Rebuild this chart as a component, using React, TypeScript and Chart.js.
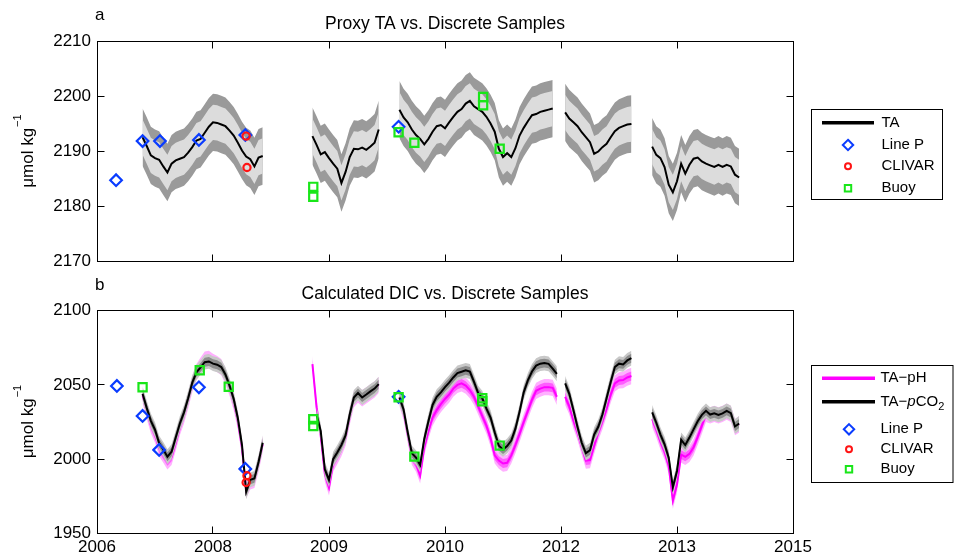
import React, { useEffect, useRef } from 'react';
import { Chart, registerables } from 'chart.js';

Chart.register(...registerables);

const FONT = "'Liberation Sans', Arial, Helvetica, sans-serif";

// ---- time axis (decimal years) ----
const SERIES_START = 2007.25;
const SERIES_STEP = 0.05;
const X_MIN = 2006.7;
const X_MAX = 2015.1;
const X_TICKS = [2006.7, 2008.1, 2009.5, 2010.9, 2012.3, 2013.7, 2015.1];
const X_TICK_LABELS = ['2006', '2008', '2009', '2010', '2012', '2013', '2015'];

// ---- panel a: proxy TA (umol/kg), regular time steps from SERIES_START ----
const TA = [
  2192.6, 2191.0, 2189.3, 2188.8, 2188.5, 2187.3, 2186.2, 2187.8, 2188.4, 2188.7,
  2189.0, 2189.8, 2190.8, 2192.0, 2192.3, 2193.4, 2194.5, 2195.3, 2195.2, 2194.9,
  2194.6, 2193.8, 2192.9, 2191.6, 2190.2, 2189.1, 2188.6, 2187.3, 2188.9, 2189.2,
  null, null, null, null, null, null, null, null, null, null, null,
  2192.8, 2191.2, 2189.5, 2189.9, 2188.8, 2187.8, 2186.9, 2184.3, 2186.3, 2189.0,
  2190.5, 2190.4, 2190.7, 2190.3, 2190.9, 2191.6, 2194.0,
  null, null, null, null,
  2197.6, 2196.2, 2195.3, 2194.0, 2193.0, 2192.3, 2191.3, 2192.3, 2193.6, 2194.6,
  2194.8, 2194.2, 2195.3, 2196.3, 2197.2, 2197.7, 2198.7, 2199.2, 2198.2, 2197.7,
  2197.2, 2196.3, 2195.1, 2193.6, 2190.5, 2189.0, 2189.7, 2189.0, 2190.6, 2192.9,
  2194.3, 2195.5, 2196.6, 2196.8, 2197.2, 2197.4, 2197.6, 2197.8,
  null, null,
  2197.1, 2196.0, 2195.3, 2194.6, 2193.5, 2192.6, 2191.7, 2189.6, 2190.0, 2190.8,
  2191.4, 2192.6, 2193.7, 2194.3, 2194.6, 2194.9, 2195.0,
  null, null, null, null,
  2190.9, 2189.4, 2188.8, 2187.2, 2184.0, 2182.6, 2184.6, 2187.8, 2186.0, 2187.6,
  2188.7, 2188.9, 2188.2, 2187.8, 2187.5, 2187.2, 2187.6, 2187.2, 2187.6, 2187.3,
  2185.8, 2185.3,
];
const TA_UNC_INNER = 3.2;
const TA_UNC_OUTER = 5.2;

const LINEP_A_T = [2006.93, 2007.25, 2007.46, 2007.93, 2008.49, 2010.34];
const LINEP_A_V = [2184.8, 2191.9, 2191.9, 2192.1, 2193.0, 2194.5];
const CLIVAR_A_T = [2008.50, 2008.51];
const CLIVAR_A_V = [2192.8, 2187.1];
const BUOY_A_T = [2009.31, 2009.31, 2010.34, 2010.53, 2011.36, 2011.36, 2011.56];
const BUOY_A_V = [2183.6, 2181.8, 2193.5, 2191.6, 2199.9, 2198.4, 2190.5];

// ---- panel b: calculated DIC (umol/kg) ----
const DIC_TA_PH = [
  2043.0, 2032.5, 2023.0, 2016.5, 2007.5, 2003.0, 1998.5, 2001.5, 2011.0, 2021.5,
  2029.5, 2039.5, 2050.5, 2058.5, 2063.0, 2067.0, 2067.5, 2065.5, 2064.0, 2062.0,
  2056.0, 2048.0, 2038.5, 2025.5, 2007.5, 1979.0, 1985.0, 1986.0, 1997.0, 2010.0,
  null, null, null, null, null, null, null, null, null, null, null,
  2064.0, 2035.0, 2016.0, 1990.0, 1981.0, 1997.0, 2002.0, 2007.5, 2014.5, 2028.5,
  2040.5, 2043.5, 2041.0, 2043.0, 2045.0, 2047.0, 2050.0,
  null, null, null, null,
  2041.0, 2032.0, 2016.5, 2001.5, 1997.0, 1989.0, 2008.0, 2019.0, 2028.0, 2033.0,
  2037.0, 2040.5, 2043.5, 2047.5, 2050.0, 2051.0, 2049.5, 2046.5, 2042.0, 2035.5,
  2029.0, 2022.5, 2014.0, 2002.5, 1999.0, 1997.0, 1997.5, 2002.5, 2009.5, 2017.0,
  2025.0, 2032.5, 2040.0, 2046.0, 2047.5, 2048.5, 2048.5, 2048.0, 2042.0,
  null,
  2042.0, 2035.5, 2026.0, 2018.0, 2008.4, 1999.0, 1999.4, 2009.0, 2018.0, 2025.5,
  2034.0, 2043.5, 2051.0, 2053.0, 2053.3, 2055.0, 2056.0,
  null, null, null, null,
  2027.0, 2020.0, 2012.0, 2005.0, 1995.5, 1972.0, 1983.0, 2003.0, 2001.5, 2003.5,
  2008.0, 2015.0, 2022.5, 2030.5, 2029.5, 2030.5, 2029.5, 2030.5, 2032.0, 2030.5,
  2021.5, 2023.5,
];
const DIC_TA_PCO2 = [
  2044.0, 2034.5, 2025.8, 2019.8, 2010.8, 2006.5, 2001.6, 2005.0, 2014.5, 2024.0,
  2031.5, 2041.0, 2051.5, 2058.5, 2061.8, 2065.3, 2065.8, 2064.3, 2063.6, 2062.0,
  2057.0, 2049.5, 2040.5, 2027.5, 2009.5, 1978.0, 1986.0, 1987.0, 1998.0, 2011.0,
  null, null, null, null, null, null, null, null, null, null, null,
  null, 2030.0, 2019.0, 1993.0, 1986.0, 2000.0, 2004.5, 2009.5, 2016.0, 2030.0,
  2041.5, 2044.5, 2041.5, 2043.5, 2045.6, 2047.5, 2050.5,
  null, null, null, null,
  2041.5, 2033.5, 2018.0, 2004.0, 2001.0, 1996.0, 2013.5, 2025.5, 2036.5, 2042.0,
  2045.0, 2048.5, 2051.5, 2055.0, 2058.0, 2058.9, 2059.8, 2059.0, 2052.0, 2044.5,
  2041.0, 2034.0, 2028.0, 2018.0, 2009.0, 2006.5, 2008.8, 2012.5, 2020.5, 2032.0,
  2045.0, 2053.0, 2059.0, 2063.0, 2064.3, 2064.7, 2064.2, 2061.0, 2057.5,
  null,
  2051.0, 2044.0, 2033.0, 2021.5, 2011.0, 2004.0, 2006.0, 2016.5, 2021.8, 2030.0,
  2041.0, 2052.0, 2062.0, 2064.3, 2063.8, 2066.5, 2068.0,
  null, null, null, null,
  2031.5, 2024.5, 2016.5, 2010.0, 2001.0, 1981.0, 1992.0, 2013.0, 2009.5, 2014.5,
  2020.0, 2025.5, 2029.8, 2032.5, 2030.0, 2030.8, 2029.8, 2030.8, 2032.5, 2031.0,
  2022.0, 2024.0,
];
const PH_UNC_INNER = 3.0;
const PH_UNC_OUTER = 5.5;
const PCO2_UNC_INNER = 3.0;
const PCO2_UNC_OUTER = 5.0;

const LINEP_B_T = [2006.94, 2007.25, 2007.45, 2007.93, 2008.49, 2010.34];
const LINEP_B_V = [2049.3, 2029.1, 2006.2, 2048.4, 1993.4, 2042.0];
const CLIVAR_B_T = [2008.51, 2008.50];
const CLIVAR_B_V = [1988.8, 1984.2];
const BUOY_B_T = [2007.25, 2007.94, 2008.29, 2009.31, 2009.31, 2010.34, 2010.53, 2011.35, 2011.35, 2011.56];
const BUOY_B_V = [2048.4, 2059.9, 2048.8, 2026.9, 2022.3, 2041.7, 2001.7, 2041.0, 2039.0, 2009.1];

// ---- colours ----
const BLUE = '#0a3cff';
const RED = '#ff1414';
const GREEN = '#19e619';
const MAGENTA = '#ff00ff';

// ---- helpers ----
const xy = (vals: (number | null)[], d = 0) =>
  vals.map((v, i) => ({ x: SERIES_START + i * SERIES_STEP, y: v == null ? null : v + d }));
const pts = (t: number[], v: number[]) => t.map((x, i) => ({ x, y: v[i] }));

function band(vals: (number | null)[], d: number, color: string, order: number) {
  return [
    { data: xy(vals, d), showLine: true, fill: '+1', backgroundColor: color, borderColor: 'rgba(0,0,0,0)', borderWidth: 0, pointRadius: 0, order, spanGaps: false },
    { data: xy(vals, -d), showLine: true, fill: false, backgroundColor: 'rgba(0,0,0,0)', borderColor: 'rgba(0,0,0,0)', borderWidth: 0, pointRadius: 0, order, spanGaps: false },
  ];
}
function line(vals: (number | null)[], color: string, width: number, order: number) {
  return { data: xy(vals), showLine: true, fill: false, borderColor: color, backgroundColor: color, borderWidth: width, pointRadius: 0, order, spanGaps: false };
}
function markers(t: number[], v: number[], style: string, radius: number, color: string, order: number) {
  return {
    data: pts(t, v), showLine: false, pointStyle: style, pointRadius: radius, pointBorderWidth: 2.2,
    pointBorderColor: color, borderColor: color, pointBackgroundColor: 'rgba(0,0,0,0)', backgroundColor: 'rgba(0,0,0,0)', order,
  };
}

type Part = { t: string; italic?: boolean; sub?: boolean };
type Entry = { kind: string; color: string; y: number; parts: Part[] };

function drawMarker(ctx: CanvasRenderingContext2D, kind: string, x: number, y: number, color: string) {
  ctx.save();
  ctx.strokeStyle = color;
  ctx.lineWidth = 2;
  ctx.beginPath();
  if (kind === 'rectRot') {
    const r = 5.2;
    ctx.moveTo(x, y - r); ctx.lineTo(x + r, y); ctx.lineTo(x, y + r); ctx.lineTo(x - r, y); ctx.closePath();
  } else if (kind === 'circle') {
    ctx.arc(x, y, 3, 0, Math.PI * 2);
  } else {
    ctx.rect(x - 3.2, y - 3.2, 6.4, 6.4);
  }
  ctx.stroke();
  ctx.restore();
}

function drawParts(ctx: CanvasRenderingContext2D, parts: Part[], x: number, y: number) {
  let cx = x;
  for (const p of parts) {
    const size = p.sub ? 11 : 15;
    ctx.font = `${p.italic ? 'italic ' : ''}${size}px ${FONT}`;
    ctx.fillText(p.t, cx, y + (p.sub ? 5 : 0));
    cx += ctx.measureText(p.t).width;
  }
}

function decorPlugin(p: any) {
  return {
    id: 'decor',
    afterDraw(chart: any) {
      const ctx: CanvasRenderingContext2D = chart.ctx;
      const { left, right, top, bottom } = chart.chartArea;
      const c = (v: number) => Math.floor(v) + 0.5;
      const L = c(left), R = c(right), T = c(top), B = c(bottom);
      ctx.save();
      ctx.strokeStyle = '#000';
      ctx.lineWidth = 1;
      ctx.strokeRect(L, T, R - L, B - T);
      const TL = 7;
      ctx.beginPath();
      chart.scales.x.ticks.forEach((t: any) => {
        const px = c(chart.scales.x.getPixelForValue(t.value));
        ctx.moveTo(px, B); ctx.lineTo(px, B - TL);
        ctx.moveTo(px, T); ctx.lineTo(px, T + TL);
      });
      chart.scales.y.ticks.forEach((t: any) => {
        const py = c(chart.scales.y.getPixelForValue(t.value));
        ctx.moveTo(L, py); ctx.lineTo(L + TL, py);
        ctx.moveTo(R, py); ctx.lineTo(R - TL, py);
      });
      ctx.stroke();

      ctx.fillStyle = '#000';
      // title
      ctx.font = `17.5px ${FONT}`;
      ctx.textAlign = 'center';
      ctx.textBaseline = 'alphabetic';
      ctx.fillText(p.title, (left + right) / 2, p.titleY);
      // panel letter
      ctx.font = `17px ${FONT}`;
      ctx.textAlign = 'left';
      ctx.fillText(p.letter, 95, p.letterY);

      // y-axis label with superscript
      const cy = (top + bottom) / 2;
      ctx.save();
      ctx.translate(33, cy);
      ctx.rotate(-Math.PI / 2);
      ctx.font = `17px ${FONT}`;
      const main = 'μmol kg';
      const mw = ctx.measureText(main).width;
      ctx.font = `11px ${FONT}`;
      const sup = '−1';
      const sw = ctx.measureText(sup).width;
      const x0 = -(mw + sw) / 2;
      ctx.font = `17px ${FONT}`;
      ctx.fillText(main, x0, 0);
      ctx.font = `11px ${FONT}`;
      ctx.fillText(sup, x0 + mw + 1, -12);
      ctx.restore();

      // legend
      const [bx, by, bw, bh] = p.legendBox;
      ctx.fillStyle = '#fff';
      ctx.fillRect(bx, by, bw, bh);
      ctx.strokeStyle = '#000';
      ctx.lineWidth = 1;
      ctx.strokeRect(bx, by, bw, bh);
      ctx.fillStyle = '#000';
      ctx.textAlign = 'left';
      ctx.textBaseline = 'middle';
      p.entries.forEach((e: Entry) => {
        if (e.kind === 'line') {
          ctx.save();
          ctx.strokeStyle = e.color;
          ctx.lineWidth = 3.5;
          ctx.beginPath();
          ctx.moveTo(p.lineX[0], e.y);
          ctx.lineTo(p.lineX[1], e.y);
          ctx.stroke();
          ctx.restore();
        } else {
          drawMarker(ctx, e.kind, p.markerX, e.y, e.color);
        }
        ctx.fillStyle = '#000';
        drawParts(ctx, e.parts, p.textX, e.y);
      });
      ctx.restore();
    },
  };
}

function makeConfig(opts: any) {
  return {
    type: 'scatter',
    data: { datasets: opts.datasets },
    options: {
      animation: false,
      responsive: false,
      events: [],
      layout: { padding: { top: opts.padTop, bottom: opts.padBottom, left: 0, right: 161 } },
      plugins: { legend: { display: false }, tooltip: { enabled: false }, title: { display: false } },
      scales: {
        x: {
          type: 'linear',
          min: X_MIN,
          max: X_MAX,
          afterBuildTicks: (s: any) => { s.ticks = X_TICKS.map((v) => ({ value: v })); },
          ticks: {
            display: opts.showX,
            padding: 4,
            autoSkip: false,
            maxRotation: 0,
            color: '#000',
            font: { family: FONT, size: 17 },
            callback: (_v: any, i: number) => X_TICK_LABELS[i],
          },
          grid: { display: false, drawTicks: false },
          border: { display: false },
          afterFit: (s: any) => { s.height = opts.xHeight; },
        },
        y: {
          type: 'linear',
          min: opts.yMin,
          max: opts.yMax,
          ticks: {
            stepSize: opts.yStep,
            padding: 6,
            color: '#000',
            font: { family: FONT, size: 17 },
            callback: (v: any) => String(v),
          },
          grid: { display: false, drawTicks: false },
          border: { display: false },
          afterFit: (s: any) => { s.width = 97; },
        },
      },
    },
    plugins: [decorPlugin(opts.decor)],
  };
}

const configA = () => makeConfig({
  padTop: 41.3, padBottom: 13.7, xHeight: 0, showX: false,
  yMin: 2170, yMax: 2210, yStep: 10,
  datasets: [
    markers(LINEP_A_T, LINEP_A_V, 'rectRot', 5.8, BLUE, 2),
    markers(CLIVAR_A_T, CLIVAR_A_V, 'circle', 3.6, RED, 1),
    markers(BUOY_A_T, BUOY_A_V, 'rect', 5.8, GREEN, 0),
    line(TA, '#000', 2, 3),
    ...band(TA, TA_UNC_INNER, '#dcdcdc', 4),
    ...band(TA, TA_UNC_OUTER, '#9a9a9a', 5),
  ],
  decor: {
    title: 'Proxy TA vs. Discrete Samples', titleY: 29.3, letter: 'a', letterY: 20,
    legendBox: [811.5, 109.5, 131, 90], lineX: [822, 874], markerX: 848, textX: 881.5,
    entries: [
      { kind: 'line', color: '#000', y: 122.7, parts: [{ t: 'TA' }] },
      { kind: 'rectRot', color: BLUE, y: 145, parts: [{ t: 'Line P' }] },
      { kind: 'circle', color: RED, y: 166.3, parts: [{ t: 'CLIVAR' }] },
      { kind: 'rect', color: GREEN, y: 188.3, parts: [{ t: 'Buoy' }] },
    ],
  },
});

const configB = () => makeConfig({
  padTop: 32.7, padBottom: 0, xHeight: 22.7, showX: true,
  yMin: 1950, yMax: 2100, yStep: 50,
  datasets: [
    markers(LINEP_B_T, LINEP_B_V, 'rectRot', 5.8, BLUE, 2),
    markers(CLIVAR_B_T, CLIVAR_B_V, 'circle', 3.6, RED, 1),
    markers(BUOY_B_T, BUOY_B_V, 'rect', 5.8, GREEN, 0),
    line(DIC_TA_PCO2, '#000', 2, 3),
    ...band(DIC_TA_PCO2, PCO2_UNC_INNER, '#8c8c8c', 4),
    ...band(DIC_TA_PCO2, PCO2_UNC_OUTER, '#c8c8c8', 5),
    line(DIC_TA_PH, MAGENTA, 2, 6),
    ...band(DIC_TA_PH, PH_UNC_INNER, '#ff5cff', 7),
    ...band(DIC_TA_PH, PH_UNC_OUTER, '#ffb0ff', 8),
  ],
  decor: {
    title: 'Calculated DIC vs. Discrete Samples', titleY: 20.7, letter: 'b', letterY: 11.5,
    legendBox: [811.5, 87.5, 141.5, 117], lineX: [822, 875], markerX: 849, textX: 880.5,
    entries: [
      { kind: 'line', color: MAGENTA, y: 100.3, parts: [{ t: 'TA−pH' }] },
      { kind: 'line', color: '#000', y: 123.7, parts: [{ t: 'TA−' }, { t: 'p', italic: true }, { t: 'CO' }, { t: '2', sub: true }] },
      { kind: 'rectRot', color: BLUE, y: 151.3, parts: [{ t: 'Line P' }] },
      { kind: 'circle', color: RED, y: 171.3, parts: [{ t: 'CLIVAR' }] },
      { kind: 'rect', color: GREEN, y: 191.3, parts: [{ t: 'Buoy' }] },
    ],
  },
});

export default function App() {
  const refA = useRef<HTMLCanvasElement>(null);
  const refB = useRef<HTMLCanvasElement>(null);
  useEffect(() => {
    const a = new Chart(refA.current as HTMLCanvasElement, configA() as any);
    const b = new Chart(refB.current as HTMLCanvasElement, configB() as any);
    return () => { a.destroy(); b.destroy(); };
  }, []);
  return (
    <div style={{ position: 'fixed', left: 0, top: 0, width: 954, height: 556, background: '#fff' }}>
      <canvas ref={refA} width={954} height={278} style={{ position: 'absolute', left: 0, top: 0, width: 954, height: 278 }} />
      <canvas ref={refB} width={954} height={278} style={{ position: 'absolute', left: 0, top: 278, width: 954, height: 278 }} />
    </div>
  );
}
